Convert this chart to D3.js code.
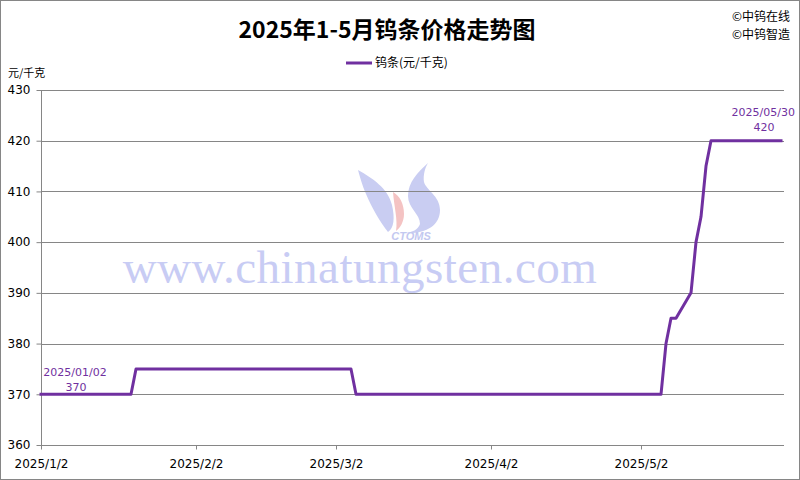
<!DOCTYPE html>
<html><head><meta charset="utf-8">
<script src="https://cdn.jsdelivr.net/npm/d3@7"></script>
<style>html,body{margin:0;padding:0;background:#fff}</style>
</head><body>
<svg id="c" width="800" height="480"></svg>
<script>
const title = "2025年1-5月钨条价格走势图";
const seriesName = "钨条(元/千克)";
const unitLabel = "元/千克";
const credits = ["©中钨在线", "©中钨智造"];
const dates = ["2025-01-02","2025-01-20","2025-01-21","2025-03-05","2025-03-06","2025-04-30","2025-05-06","2025-05-07","2025-05-08","2025-05-09","2025-05-12","2025-05-13","2025-05-14","2025-05-15","2025-05-16","2025-05-30"];
const prices = [370,370,375,375,370,370,370,380,385,385,390,400,405,415,420,420];
const yTicks = [360,370,380,390,400,410,420,430];
const xTickDates = ["2025-01-02","2025-02-02","2025-03-02","2025-04-02","2025-05-02"];
const xTickLabels = ["2025/1/2","2025/2/2","2025/3/2","2025/4/2","2025/5/2"];
const firstLabel = ["2025/01/02","370"];
const lastLabel = ["2025/05/30","420"];

const parse = d3.utcParse("%Y-%m-%d");
const data = dates.map((d,i)=>({date:parse(d), v:prices[i]}));
const svg = d3.select("#c");
const W=800,H=480;
const m = {l:41, r:781, t:90, b:445};
const x = d3.scaleUtc().domain([parse(dates[0]), parse(dates[dates.length-1])]).range([m.l, m.r]);
const y = d3.scaleLinear().domain([360,430]).range([m.b, m.t]);
const purple = "#7030A0", grid="#868686";
const font = "'DejaVu Sans', Verdana, sans-serif";
const cjk = "'Noto Sans CJK SC', sans-serif";

svg.append("rect").attr("x",0.5).attr("y",0.5).attr("width",W-1).attr("height",H-1).attr("fill","#fff").attr("stroke",grid);

// watermark
const wm = svg.append("g").attr("opacity",1);
wm.append("text").attr("x",360).attr("y",283).attr("text-anchor","middle")
  .attr("font-family","'Liberation Serif', 'DejaVu Serif', serif").attr("font-size",47)
  .attr("fill","#c8ccf4").attr("letter-spacing",0.5).text("www.chinatungsten.com");
// logo
wm.append("path").attr("d","M358,170 C372,178 388,188 392,205 C395,218 394,228 388,232 C380,222 372,208 366,194 C362,185 360,177 358,170 Z").attr("fill","#c9cdf2");
wm.append("path").attr("d","M428,163 C418,172 408,182 408,196 C408,208 420,214 420,224 C418,230 412,232 406,233 C425,234 440,226 440,210 C440,196 426,190 424,182 C423,175 425,168 428,163 Z").attr("fill","#c9cdf2");
wm.append("path").attr("d","M393,192 C400,196 404,204 404,214 C404,222 400,228 396,231 C398,220 394,206 393,192 Z").attr("fill","#f4c3c3");
wm.append("text").attr("x",411).attr("y",240).attr("text-anchor","middle").attr("font-family","'Liberation Sans', Arial, sans-serif")
  .attr("font-weight","bold").attr("font-style","italic").attr("font-size",11).attr("fill","#c3c8f0").text("CTOMS");

// grid
svg.append("g").selectAll("line").data(yTicks).join("line")
  .attr("x1",m.l).attr("x2",784).attr("y1",d=>Math.round(y(d))+0.5).attr("y2",d=>Math.round(y(d))+0.5)
  .attr("stroke",grid).attr("stroke-width",1);

// y axis
const yAxis = d3.axisLeft(y).tickValues(yTicks).tickSize(5).tickPadding(6).tickFormat(d3.format("d"));
const gy = svg.append("g").attr("transform",`translate(${m.l+0.5},0)`).call(yAxis);
gy.select(".domain").attr("stroke",grid).attr("d",`M0,${m.t}V${m.b}`);
gy.selectAll(".tick line").attr("stroke",grid);
gy.selectAll(".tick text").attr("font-family",font).attr("font-size",12).attr("fill","#000");

// x axis
const xAxis = d3.axisBottom(x).tickValues(xTickDates.map(parse)).tickSize(4).tickPadding(10)
  .tickFormat((d,i)=>xTickLabels[i]);
const gx = svg.append("g").attr("transform",`translate(0,${Math.round(y(360))+0.5})`).call(xAxis);
gx.select(".domain").attr("stroke",grid).attr("d",`M${m.l},0H784`);
gx.selectAll(".tick line").attr("stroke",grid);
gx.selectAll(".tick text").attr("font-family",font).attr("font-size",12).attr("fill","#000");

// line
const line = d3.line().x(d=>x(d.date)).y(d=>y(d.v));
svg.append("path").datum(data).attr("d",line).attr("fill","none").attr("stroke",purple)
  .attr("stroke-width",3).attr("stroke-linejoin","round").attr("stroke-linecap","square");

// annotations
const f = data[0], l = data[data.length-1];
svg.append("text").attr("x",x(f.date)+34).attr("y",y(f.v)-18).attr("text-anchor","middle")
  .attr("font-family",font).attr("font-size",11).attr("fill",purple).text(firstLabel[0]);
svg.append("text").attr("x",x(f.date)+35).attr("y",y(f.v)-3).attr("text-anchor","middle")
  .attr("font-family",font).attr("font-size",11).attr("fill",purple).text(firstLabel[1]);
svg.append("text").attr("x",x(l.date)+14).attr("y",y(l.v)-25).attr("text-anchor","end")
  .attr("font-family",font).attr("font-size",11).attr("fill",purple).text(lastLabel[0]);
svg.append("text").attr("x",x(l.date)-17).attr("y",y(l.v)-10).attr("text-anchor","middle")
  .attr("font-family",font).attr("font-size",11).attr("fill",purple).text(lastLabel[1]);

// title
svg.append("text").attr("x",387).attr("y",38).attr("text-anchor","middle").attr("font-family",cjk)
  .attr("font-weight","bold").attr("font-size",23).attr("fill","#000").text(title);
// credits
credits.forEach((c,i)=>svg.append("text").attr("x",790).attr("y",21+i*18).attr("text-anchor","end")
  .attr("font-family",cjk).attr("font-size",12).attr("fill","#000").text(c));
// legend
svg.append("line").attr("x1",346).attr("x2",372).attr("y1",63).attr("y2",63).attr("stroke",purple).attr("stroke-width",3);
svg.append("text").attr("x",375).attr("y",67).attr("font-family",cjk).attr("font-size",12).attr("fill","#000").text(seriesName);
// unit
svg.append("text").attr("x",8).attr("y",77).attr("font-family",cjk).attr("font-size",11).attr("fill","#000").text(unitLabel);
</script>
</body></html>
